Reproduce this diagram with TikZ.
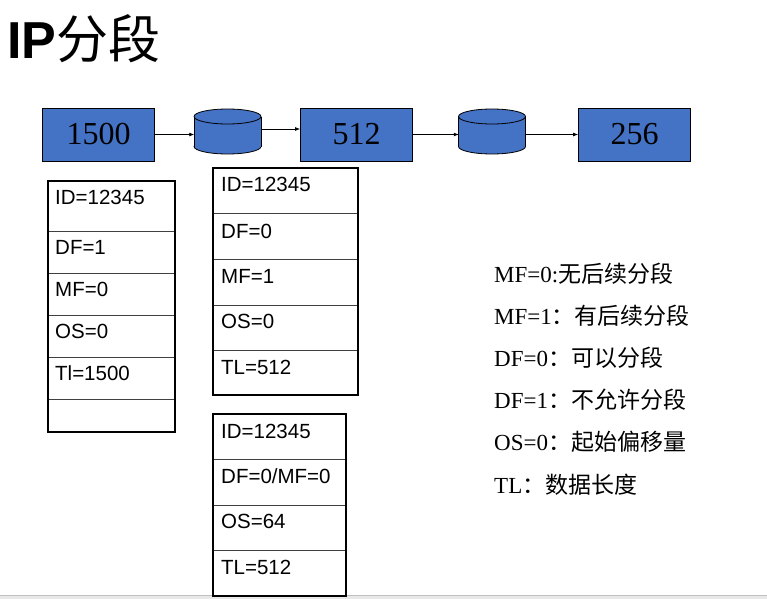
\documentclass[tikz,border=0pt]{standalone}
\usepackage{fontspec}
\setmainfont{Liberation Serif}
\setsansfont{Liberation Sans}
\newfontfamily\cjk{Noto Sans CJK SC}
\usetikzlibrary{arrows.meta}
\definecolor{boxblue}{HTML}{4472C4}
\begin{document}
\begin{tikzpicture}[x=1pt,y=-1pt,
  numbox/.style={draw=black, fill=boxblue, line width=0.8pt, minimum width=112pt, minimum height=53pt, inner sep=0pt, font=\fontsize{32}{32}\selectfont},
  cylbound/.style={draw=none, minimum width=66pt, minimum height=46pt, inner sep=0pt},
  cylpart/.style={draw=black, fill=boxblue, line width=0.8pt},
  arr/.style={-{Latex[length=5pt,width=4pt]}, line width=0.8pt},
  frame/.style={draw=black, line width=2.2pt},
  rowline/.style={draw=black!75, line width=0.9pt},
  celltext/.style={anchor=base west, inner sep=0pt, font=\sffamily\fontsize{20.5}{20.5}\selectfont},
  legend/.style={anchor=base west, inner sep=0pt, font=\fontsize{23}{23}\selectfont}
]
\useasboundingbox (0,0) rectangle (767,599);
\fill[white] (0,0) rectangle (767,599);
\fill[black!9] (0,595) rectangle (767,599);
\draw[black!25, line width=1pt] (0,595) -- (767,595);

% title
\node[anchor=base west, inner sep=0pt, font=\fontsize{52}{52}\selectfont] (title) at (7,59) {\sffamily\bfseries IP{\cjk\mdseries 分段}};

% blue boxes
\node[numbox] (b1) at (98.5,134.5) {1500};
\node[numbox] (b2) at (356.5,134.5) {512};
\node[numbox] (b3) at (634.5,134.5) {256};

% cylinders
\newcommand{\drawcyl}[2]{%
  \draw[cylpart] (#1,146.5) ellipse[x radius=33.5, y radius=7.5];
  \fill[boxblue] (#1-33.5,116.5) rectangle (#1+33.5,146.5);
  \draw[line width=0.8pt] (#1-33.5,116.5) -- (#1-33.5,146.5);
  \draw[line width=0.8pt] (#1+33.5,116.5) -- (#1+33.5,146.5);
  \draw[cylpart] (#1,116.5) ellipse[x radius=33.5, y radius=7.5];
  \node[cylbound] (#2) at (#1,131.5) {};
}
\drawcyl{227.5}{c1}
\drawcyl{492}{c2}

% connectors
\draw[arr] (b1.east) -- (b1.east -| c1.west);
\draw[arr] (c1.east |- 0,129) -- (b2.west |- 0,129);
\draw[arr] (b2.east) -- (b2.east -| c2.west);
\draw[arr] (c2.east |- b3.west) -- (b3.west);

% table 1
\draw[rowline] (48,231) -- (175,231);
\draw[rowline] (48,273) -- (175,273);
\draw[rowline] (48,315) -- (175,315);
\draw[rowline] (48,357) -- (175,357);
\draw[rowline] (48,399) -- (175,399);
\draw[frame] (48,181) rectangle (175,432);
\node[celltext] (t1a) at (55,204) {ID=12345};
\node[celltext] (t1b) at (55,254) {DF=1};
\node[celltext] (t1c) at (55,296) {MF=0};
\node[celltext] (t1d) at (55,338) {OS=0};
\node[celltext] (t1e) at (55,380) {Tl=1500};

% table 2
\draw[rowline] (213,213) -- (358,213);
\draw[rowline] (213,259) -- (358,259);
\draw[rowline] (213,305) -- (358,305);
\draw[rowline] (213,350) -- (358,350);
\draw[frame] (213,168) rectangle (358,395);
\node[celltext] (t2a) at (221,191) {ID=12345};
\node[celltext] (t2b) at (221,238) {DF=0};
\node[celltext] (t2c) at (221,283) {MF=1};
\node[celltext] (t2d) at (221,328) {OS=0};
\node[celltext] (t2e) at (221,374) {TL=512};

% table 3
\draw[rowline] (213,459) -- (346,459);
\draw[rowline] (213,505) -- (346,505);
\draw[rowline] (213,550) -- (346,550);
\draw[frame] (213,414) rectangle (346,596);
\node[celltext] (t3a) at (221,438) {ID=12345};
\node[celltext] (t3b) at (221,483) {DF=0/MF=0};
\node[celltext] (t3c) at (221,528) {OS=64};
\node[celltext] (t3d) at (221,574) {TL=512};

% legend
\node[legend] (l1) at (494,282) {MF=0:{\cjk 无后续分段}};
\node[legend] (l2) at (494,324) {MF=1{\cjk ：有后续分段}};
\node[legend] (l3) at (494,366) {DF=0{\cjk ：可以分段}};
\node[legend] (l4) at (494,408) {DF=1{\cjk ：不允许分段}};
\node[legend] (l5) at (494,450) {OS=0{\cjk ：起始偏移量}};
\node[legend] (l6) at (494,493) {TL{\cjk ：数据长度}};
\end{tikzpicture}
\end{document}
